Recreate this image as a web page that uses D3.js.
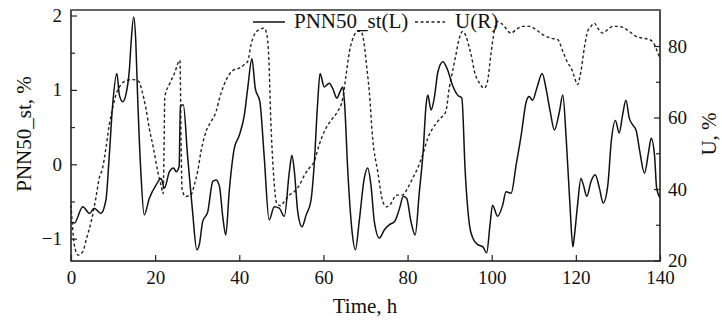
<!DOCTYPE html>
<html>
<head>
<meta charset="utf-8">
<script src="https://cdn.jsdelivr.net/npm/d3@7"></script>
<style>
  body { margin: 0; background: #fff; }
  svg text { font-family: "Liberation Serif", "Times New Roman", serif; fill: #111; }
</style>
</head>
<body>
<svg id="chart" width="722" height="322"></svg>
<script>
// PNN50_st (left axis), time in hours
const pnnTime = [0, 0.8, 2.8, 4.4, 5.5, 7.1, 8.3, 9.1, 9.9, 10.9, 11.5, 12.3, 13.1, 13.9, 14.3, 14.9, 15.4, 15.8, 16.6, 17.4, 18.6, 20.2, 21.4, 22.2, 23.4, 24.4, 25.0, 25.7, 26.0, 26.7, 27.7, 28.9, 29.9, 30.5, 31.3, 32.5, 33.7, 34.5, 35.3, 36.1, 36.8, 37.6, 38.8, 40.0, 41.2, 42.0, 43.0, 43.8, 44.9, 45.9, 47.1, 48.3, 49.5, 50.7, 51.9, 52.5, 53.1, 53.9, 54.9, 55.9, 57.0, 57.8, 58.6, 59.2, 60.2, 61.4, 62.2, 63.2, 63.9, 64.6, 65.0, 65.8, 66.8, 67.6, 68.5, 69.7, 70.5, 71.3, 72.1, 73.3, 74.5, 75.7, 76.9, 78.1, 79.0, 79.8, 80.8, 81.8, 82.8, 83.7, 84.4, 84.8, 85.6, 86.4, 87.2, 88.4, 89.5, 90.7, 91.9, 92.9, 93.7, 94.7, 95.5, 96.7, 97.9, 98.8, 99.6, 100.2, 101.4, 102.6, 103.4, 104.6, 105.8, 107.0, 108.2, 108.9, 109.7, 110.7, 112.0, 112.9, 113.9, 114.9, 116.1, 116.9, 117.7, 118.6, 119.3, 119.6, 120.4, 121.2, 121.8, 122.6, 123.6, 124.6, 125.6, 126.5, 127.6, 128.4, 129.4, 130.3, 131.1, 131.9, 132.7, 133.5, 134.3, 135.2, 136.3, 137.3, 137.9, 138.7, 139.2, 140];
const pnnValue = [-0.78, -0.79, -0.57, -0.66, -0.59, -0.66, -0.48, 0.12, 0.80, 1.22, 0.93, 0.84, 0.95, 1.29, 1.65, 1.98, 1.65, 0.97, -0.10, -0.68, -0.46, -0.28, -0.19, -0.32, -0.10, -0.05, -0.10, -0.03, 0.78, 0.80, 0.12, -0.64, -1.15, -1.08, -0.77, -0.64, -0.23, -0.21, -0.30, -0.72, -0.95, -0.37, 0.21, 0.39, 0.66, 1.02, 1.42, 1.02, 0.84, 0.12, -0.75, -0.57, -0.59, -0.70, -0.10, 0.12, -0.10, -0.64, -0.84, -0.68, -0.50, -0.01, 0.80, 1.22, 1.04, 1.09, 1.02, 0.89, 0.97, 1.04, 0.84, -0.10, -0.90, -1.15, -0.77, -0.19, -0.05, -0.28, -0.77, -0.99, -0.88, -0.81, -0.77, -0.59, -0.43, -0.46, -0.77, -0.95, -0.37, 0.17, 0.80, 0.93, 0.73, 0.91, 1.24, 1.38, 1.27, 1.06, 0.93, 0.89, -0.10, -0.81, -0.99, -1.08, -1.11, -1.19, -0.81, -0.55, -0.70, -0.55, -0.37, -0.39, -0.01, 0.39, 0.84, 0.91, 0.86, 1.02, 1.22, 1.02, 0.71, 0.46, 0.71, 0.93, 0.35, -0.55, -1.11, -0.99, -0.55, -0.19, -0.28, -0.43, -0.23, -0.14, -0.32, -0.52, -0.28, 0.30, 0.59, 0.42, 0.66, 0.86, 0.62, 0.53, 0.46, 0.17, -0.12, 0.17, 0.35, 0.12, -0.32, -0.45];

// U, % (right axis)
const uTime = [0, 0.8, 1.7, 2.8, 3.7, 4.8, 5.9, 6.7, 7.5, 8.3, 9.1, 9.9, 10.7, 11.9, 13.1, 14.7, 16.1, 16.9, 17.8, 18.6, 19.6, 20.6, 21.4, 21.9, 22.1, 22.3, 23.4, 24.6, 25.9, 26.2, 26.4, 27.2, 28.5, 29.3, 30.1, 30.9, 32.1, 33.3, 34.5, 35.3, 36.4, 37.6, 38.8, 40.0, 41.2, 42.0, 42.8, 43.6, 44.8, 45.9, 46.5, 47.0, 47.5, 48.1, 48.9, 49.8, 50.7, 51.9, 53.1, 54.3, 55.5, 56.6, 57.8, 59.0, 60.6, 62.2, 63.4, 64.6, 65.4, 66.2, 67.2, 68.2, 68.9, 69.7, 70.3, 70.9, 71.7, 72.9, 74.1, 75.0, 76.1, 77.3, 78.8, 80.0, 81.2, 82.4, 83.6, 84.8, 86.0, 87.5, 89.1, 89.9, 90.7, 91.5, 92.3, 93.1, 93.9, 94.7, 95.1, 95.9, 97.1, 98.2, 99.0, 99.8, 100.6, 101.4, 102.6, 104.6, 105.8, 107.4, 109.0, 110.5, 112.1, 114.1, 115.7, 116.9, 118.1, 118.9, 119.6, 120.4, 121.2, 122.0, 122.8, 123.6, 124.4, 125.2, 126.4, 127.6, 128.8, 130.3, 131.5, 132.7, 134.3, 135.9, 137.5, 138.7, 139.5, 140];
const uValue = [35.5, 24.3, 21.5, 22.5, 26.2, 30.9, 37.4, 43.0, 45.8, 51.4, 58.0, 62.6, 66.4, 69.2, 70.3, 70.6, 70.1, 67.3, 62.6, 57.0, 51.4, 45.0, 41.0, 38.7, 50.0, 65.8, 69.3, 72.4, 76.0, 50.0, 40.0, 37.9, 38.3, 41.1, 44.9, 50.5, 56.1, 58.9, 61.7, 65.4, 69.2, 72.0, 73.4, 73.8, 74.8, 75.7, 80.4, 83.2, 84.6, 85.0, 83.5, 77.0, 58.9, 44.9, 36.0, 35.3, 36.5, 38.3, 39.3, 41.1, 43.9, 45.8, 47.7, 52.4, 57.0, 59.8, 61.7, 65.4, 72.0, 78.5, 82.7, 84.1, 84.1, 80.4, 74.0, 67.3, 54.2, 44.9, 36.5, 35.0, 36.0, 38.3, 38.3, 40.2, 43.0, 45.8, 49.6, 54.2, 57.0, 59.4, 61.7, 68.2, 72.9, 77.6, 82.2, 84.1, 82.7, 79.4, 77.6, 72.9, 69.6, 68.2, 70.1, 77.6, 84.1, 86.9, 86.0, 83.6, 84.6, 85.5, 85.5, 84.6, 83.2, 82.2, 81.8, 78.5, 75.2, 73.8, 71.5, 69.2, 72.9, 79.4, 84.1, 85.5, 86.4, 85.0, 83.6, 84.6, 85.5, 85.5, 85.0, 84.1, 82.7, 82.2, 81.8, 80.4, 78.0, 76.6];

const xTicks = [0, 20, 40, 60, 80, 100, 120, 140];
const leftTicks = [-1, 0, 1, 2];
const leftMinor = [-0.5, 0.5, 1.5];
const rightTicks = [20, 40, 60, 80];
const rightMinor = [30, 50, 70];
const seriesNames = ["PNN50_st(L)", "U(R)"];

const svg = d3.select("#chart");
const x = d3.scaleLinear().domain([0, 140]).range([71, 660]);
const yL = d3.scaleLinear().domain([-1.30, 2.074]).range([261, 10]);
const yR = d3.scaleLinear().domain([19.86, 90.07]).range([261, 10]);

const pnn = pnnTime.map((t, i) => [t, pnnValue[i]]);
const u = uTime.map((t, i) => [t, uValue[i]]);

const lineL = d3.line().x(d => x(d[0])).y(d => yL(d[1])).curve(d3.curveMonotoneX);
const lineR = d3.line().x(d => x(d[0])).y(d => yR(d[1])).curve(d3.curveMonotoneX);

svg.append("path").datum(u)
  .attr("d", lineR)
  .attr("fill", "none")
  .attr("stroke", "#222")
  .attr("stroke-width", 1.4)
  .attr("stroke-dasharray", "3,2.5");

svg.append("path").datum(pnn)
  .attr("d", lineL)
  .attr("fill", "none")
  .attr("stroke", "#111")
  .attr("stroke-width", 1.5);

// axes
const gx = svg.append("g").attr("transform", "translate(0,261)")
  .call(d3.axisBottom(x).tickValues(xTicks).tickSize(-6).tickPadding(10));
const gl = svg.append("g").attr("transform", "translate(71,0)")
  .call(d3.axisLeft(yL).tickValues(leftTicks).tickSize(-6).tickPadding(9).tickFormat(d3.format("d")));
svg.append("g").attr("transform", "translate(71,0)")
  .call(d3.axisLeft(yL).tickValues(leftMinor).tickSize(-4).tickFormat(""));
const gr = svg.append("g").attr("transform", "translate(660,0)")
  .call(d3.axisRight(yR).tickValues(rightTicks).tickSize(-6).tickPadding(8));
svg.append("g").attr("transform", "translate(660,0)")
  .call(d3.axisRight(yR).tickValues(rightMinor).tickSize(-4).tickFormat(""));

svg.selectAll(".domain").remove();
svg.selectAll(".tick line").attr("stroke", "#222").attr("stroke-width", 1.2);
svg.selectAll(".tick text").attr("font-size", 19).attr("fill", "#111")
  .style("font-family", '"Liberation Serif", "Times New Roman", serif');
gx.selectAll(".tick text").attr("dy", "0.71em");

// frame
svg.append("rect")
  .attr("x", 71).attr("y", 10).attr("width", 589).attr("height", 251)
  .attr("fill", "none").attr("stroke", "#222").attr("stroke-width", 1.6);
svg.append("line").attr("x1", 71).attr("x2", 660).attr("y1", 10).attr("y2", 10)
  .attr("stroke", "#666").attr("stroke-width", 2);

// axis titles
svg.append("text").attr("x", 365).attr("y", 313).attr("text-anchor", "middle")
  .attr("font-size", 21).text("Time, h");
svg.append("text").attr("transform", "translate(31,134) rotate(-90)")
  .attr("text-anchor", "middle").attr("font-size", 21).text("PNN50_st, %");
svg.append("text").attr("transform", "translate(716,134) rotate(-90)")
  .attr("text-anchor", "middle").attr("font-size", 21).text("U, %");

// legend
const leg = svg.append("g");
leg.append("line").attr("x1", 253).attr("x2", 285).attr("y1", 22).attr("y2", 22)
  .attr("stroke", "#111").attr("stroke-width", 1.5);
leg.append("text").attr("x", 294).attr("y", 28).attr("font-size", 21).text(seriesNames[0]);
leg.append("line").attr("x1", 415).attr("x2", 445).attr("y1", 22).attr("y2", 22)
  .attr("stroke", "#222").attr("stroke-width", 1.4).attr("stroke-dasharray", "3,2.5");
leg.append("text").attr("x", 455).attr("y", 28).attr("font-size", 21).text(seriesNames[1]);
</script>
</body>
</html>
